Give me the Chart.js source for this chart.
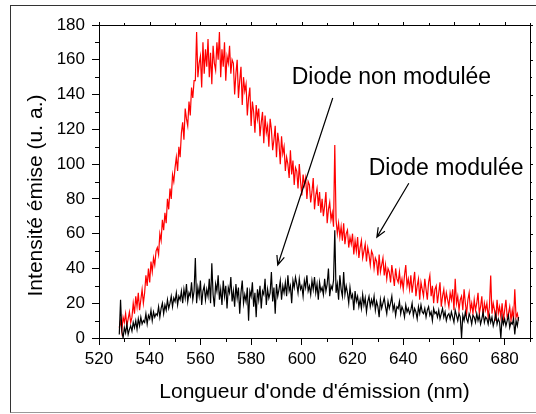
<!DOCTYPE html>
<html>
<head>
<meta charset="utf-8">
<script src="https://cdn.jsdelivr.net/npm/chart.js@4.4.1/dist/chart.umd.min.js"></script>
<style>
body { margin: 0; background: #fff; }
#wrap { position: relative; width: 536px; height: 414px; overflow: hidden; }
#frame { position: absolute; left: 10px; top: 5px; width: 600px; height: 408px; box-sizing: border-box; border: 1.5px solid #333; border-bottom-color: #999; }
canvas { position: absolute; left: 0; top: 0; }
</style>
</head>
<body>
<div id="wrap">
  <div id="frame"></div>
  <canvas id="spectre" width="536" height="414"></canvas>
</div>
<script>
// longueurs d'onde : 528 nm -> 685.5 nm, pas de 0.5 nm
const wlStart = 528;
const wlStep = 0.5;

// diode modulée (rouge)
const moduleeValues = [
  6,10,4,12,9,14,7,11,15,9,
  12,20,14,24,18,26,16,22,28,20,
  26,36,30,40,32,44,38,46,42,50,
  52,48,60,56,68,62,72,66,80,74,
  86,80,94,90,98,104,96,110,104,118,
  124,114,132,126,122,136,128,144,138,148,
  148,176,150,158,162,144,170,152,166,156,
  172,150,164,146,168,158,154,170,160,176,
  150,166,156,170,148,162,158,168,152,160,
  158,140,152,160,138,148,156,134,150,142,
  146,128,138,144,122,136,130,118,134,126,
  132,116,124,130,112,128,118,122,110,126,
  120,108,114,122,104,118,112,100,116,106,
  110,96,104,100,92,108,94,102,88,98,
  96,86,100,90,82,94,88,92,80,90,
  88,78,84,92,74,82,86,76,84,72,
  80,70,76,84,66,74,78,68,72,64,
  111,68,60,66,58,64,56,66,54,60,
  62,52,58,54,60,48,56,50,58,46,
  52,56,46,50,54,44,52,48,42,50,
  48,40,46,44,36,48,38,42,46,36,
  42,34,40,38,32,42,36,30,40,34,
  32,38,30,34,28,36,42,30,34,28,
  36,26,32,38,24,30,34,22,32,28,
  24,34,28,22,32,36,24,30,20,28,
  30,20,26,32,18,24,28,20,26,22,
  18,26,22,28,16,34,20,24,16,22,
  24,16,28,20,14,22,26,16,20,14,
  22,16,20,26,14,18,24,12,20,16,
  20,12,18,36,14,20,16,10,22,14,
  18,12,20,10,16,22,12,14,18,10,
  16,10,28,12,14,10
];

// diode non modulée (noir)
const nonModuleeValues = [
  2,22,4,0,6,3,8,2,5,7,
  4,9,6,10,5,11,7,12,8,10,
  9,14,8,13,11,16,10,15,12,14,
  13,18,12,17,20,14,19,16,22,17,
  20,24,18,23,21,26,19,24,22,27,
  20,28,23,31,21,26,24,32,22,27,
  46,20,29,24,33,19,27,30,22,28,
  24,34,20,43,25,18,31,27,36,22,
  28,19,33,24,30,17,29,26,35,21,
  27,18,31,23,29,14,26,33,20,25,
  21,29,10,27,24,32,18,26,12,28,
  22,30,17,27,25,34,19,28,23,26,
  38,21,29,14,31,24,28,33,22,30,
  26,32,24,36,27,30,20,33,29,35,
  31,26,34,28,30,24,33,29,36,27,
  30,25,33,28,35,26,31,22,32,27,
  29,25,34,27,31,40,24,30,28,33,
  62,26,31,22,36,28,24,38,25,30,
  26,20,29,23,25,16,27,21,24,18,
  22,17,25,19,23,15,21,24,18,22,
  19,24,16,21,18,12,22,17,20,23,
  18,14,21,17,20,24,16,19,13,18,
  17,21,14,18,16,12,19,15,17,14,
  16,20,13,17,15,11,18,14,19,15,
  14,17,12,16,18,13,15,10,17,14,
  15,12,16,11,14,17,12,15,10,13,
  14,11,15,12,9,16,13,10,14,12,
  0,13,10,15,11,9,14,12,8,13,
  12,9,14,10,13,8,11,15,9,12,
  11,8,13,9,12,7,10,14,8,11,
  9,0,12,8,11,7,10,13,6,9,
  8,11,2,10,7,12
];

// annotations : texte (coin gauche) et flèche (départ -> pointe), en unités des axes
const annotLabels = ['Diode non modulée', 'Diode modulée'];
const annotTextAt = [[596, 150], [626.4, 97.5]];
const annotArrows = [[[612.2, 138], [590.5, 42]], [[642.2, 89], [629.6, 58]]];

function toPoints(values) {
  return values.map((v, i) => ({ x: wlStart + i * wlStep, y: v }));
}

Chart.defaults.font.family = "'Liberation Sans', Arial, sans-serif";
Chart.defaults.color = '#000';

const decor = {
  id: 'decor',
  afterDraw(chart) {
    const { ctx, chartArea: a, scales: { x, y } } = chart;
    const px = v => Math.round(x.getPixelForValue(v)) + 0.5;
    const py = v => Math.round(y.getPixelForValue(v)) + 0.5;
    ctx.save();
    ctx.strokeStyle = '#000';
    ctx.lineWidth = 1;

    // cadre haut et droit
    ctx.beginPath();
    ctx.moveTo(Math.round(a.left), Math.round(a.top) + 0.5);
    ctx.lineTo(Math.round(a.right) + 0.5, Math.round(a.top) + 0.5);
    ctx.lineTo(Math.round(a.right) + 0.5, Math.round(a.bottom));
    ctx.stroke();

    // graduations secondaires + graduations des axes haut/droit
    ctx.beginPath();
    for (let v = 520; v <= 690; v += 10) {
      const X = px(v);
      const major = v % 20 === 0;
      if (!major) { ctx.moveTo(X, a.bottom); ctx.lineTo(X, a.bottom + 4); }
      ctx.moveTo(X, a.top); ctx.lineTo(X, a.top - (major ? 3 : 2));
    }
    for (let v = 0; v <= 180; v += 10) {
      const Y = py(v);
      const major = v % 20 === 0;
      if (!major) { ctx.moveTo(a.left, Y); ctx.lineTo(a.left - 4, Y); }
      ctx.moveTo(a.right, Y); ctx.lineTo(a.right + (major ? 3 : 2), Y);
    }
    ctx.stroke();

    // titre axe y
    ctx.fillStyle = '#000';
    ctx.font = "21px 'Liberation Sans', Arial, sans-serif";
    ctx.textAlign = 'center';
    ctx.textBaseline = 'middle';
    ctx.translate(36, (a.top + a.bottom) / 2 + 14);
    ctx.rotate(-Math.PI / 2);
    ctx.fillText('Intensité émise (u. a.)', 0, 0);
    ctx.setTransform(1, 0, 0, 1, 0, 0);

    // annotations
    ctx.font = "23px 'Liberation Sans', Arial, sans-serif";
    ctx.textAlign = 'left';
    annotLabels.forEach((txt, i) => {
      ctx.fillText(txt, x.getPixelForValue(annotTextAt[i][0]), y.getPixelForValue(annotTextAt[i][1]));
    });
    ctx.lineWidth = 1.2;
    annotArrows.forEach(([from, to]) => {
      const x1 = x.getPixelForValue(from[0]), y1 = y.getPixelForValue(from[1]);
      const x2 = x.getPixelForValue(to[0]), y2 = y.getPixelForValue(to[1]);
      const ang = Math.atan2(y2 - y1, x2 - x1);
      ctx.beginPath();
      ctx.moveTo(x1, y1);
      ctx.lineTo(x2, y2);
      ctx.moveTo(x2 - 10 * Math.cos(ang - 0.4), y2 - 10 * Math.sin(ang - 0.4));
      ctx.lineTo(x2, y2);
      ctx.lineTo(x2 - 10 * Math.cos(ang + 0.4), y2 - 10 * Math.sin(ang + 0.4));
      ctx.stroke();
    });
    ctx.restore();
  }
};

new Chart(document.getElementById('spectre'), {
  type: 'line',
  data: {
    datasets: [{
      label: 'Diode non modulée',
      data: toPoints(nonModuleeValues),
      borderColor: '#000000',
      borderWidth: 1.2,
      pointRadius: 0,
      tension: 0,
      order: 0
    }, {
      label: 'Diode modulée',
      data: toPoints(moduleeValues),
      borderColor: '#ff0000',
      borderWidth: 1.2,
      pointRadius: 0,
      tension: 0,
      order: 1
    }]
  },
  options: {
    responsive: false,
    animation: false,
    layout: { padding: { top: 25, right: 6, left: 0, bottom: 0 } },
    plugins: { legend: { display: false }, tooltip: { enabled: false } },
    scales: {
      x: {
        type: 'linear',
        min: 520,
        max: 690,
        ticks: { stepSize: 20, includeBounds: false, autoSkip: false, maxRotation: 0, font: { size: 17 }, padding: 4, color: '#000' },
        grid: { drawOnChartArea: false, tickLength: 7, color: '#000', lineWidth: 1 },
        border: { display: true, color: '#000', width: 1 },
        title: { display: true, text: "Longueur d'onde d'émission (nm)", font: { size: 21 }, color: '#000', padding: { top: 0, bottom: 9 } },
        afterFit: s => { s.height = 76; }
      },
      y: {
        min: 0,
        max: 180,
        ticks: { stepSize: 20, font: { size: 17 }, padding: 7, color: '#000' },
        grid: { drawOnChartArea: false, tickLength: 7, color: '#000', lineWidth: 1 },
        border: { display: true, color: '#000', width: 1 },
        afterFit: s => { s.width = 99; }
      }
    }
  },
  plugins: [decor]
});
</script>
</body>
</html>
